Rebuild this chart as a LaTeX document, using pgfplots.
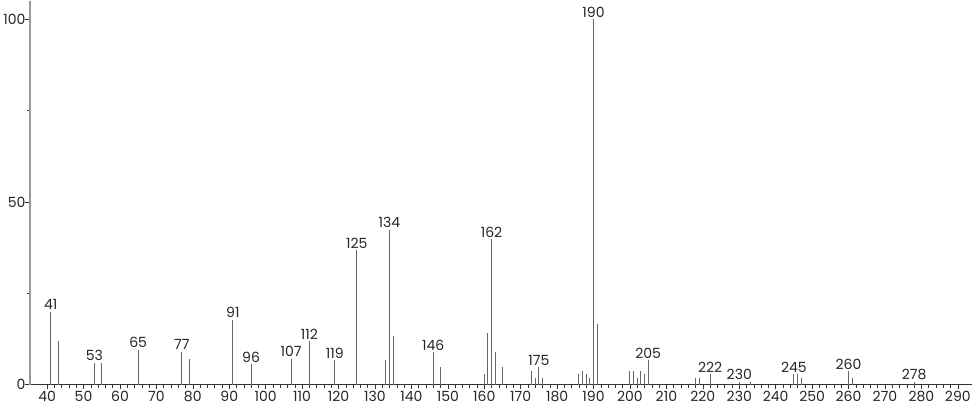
\documentclass[border=0pt]{standalone}
\usepackage{fontspec}
\setmainfont{Poppins}
\usepackage{pgfplots}
\pgfplotsset{compat=1.18}
\usepackage{pgfplotstable}

\pgfplotstableread{
mz  rel
41  20
43  11.8
53  6
55  6
65  9.6
77  9
79  7.1
91  17.8
96  5.5
107 7.1
112 11.8
119 6.6
125 36.9
133 6.6
134 42.4
135 13.2
146 8.8
148 4.7
160 2.9
161 14
162 39.9
163 9
165 4.7
173 3.8
174 1.9
175 4.7
176 1.9
186 2.9
187 3.8
188 2.9
189 1.9
190 100
191 16.6
200 3.8
201 3.8
202 1.7
203 3.8
204 2.9
205 6.6
218 1.9
219 1.9
222 2.9
230 0.8
233 0.8
245 2.9
246 2.9
247 1.9
260 3.7
261 1.9
278 0.8
}\peaks

\pgfplotstableread{
mz  rel
41  20
53  6
65  9.6
77  9
91  17.8
96  5.5
107 7.1
112 11.8
119 6.6
125 36.9
134 42.4
146 8.8
162 39.9
175 4.7
190 100
205 6.6
222 2.9
230 0.8
245 2.9
260 3.7
278 0.8
}\labelled

\begin{document}
\begin{tikzpicture}
\begin{axis}[
    scale only axis,
    width=941pt, height=383pt,
    xmin=35.3, xmax=294,
    ymin=0, ymax=105,
    axis x line=bottom, axis y line=left,
    axis line style={-},
    x axis line style={black!80, line width=0.8pt},
    y axis line style={black!40, line width=2pt},
    xtick={40,50,...,290},
    minor x tick num=4,
    ytick={0,50,100},
    minor ytick={25,75},
    tick align=outside,
    major tick length=4.5pt,
    minor tick length=3pt,
    tick style={black!80, line width=0.6pt},
    xticklabel style={yshift=1pt},
    yticklabel style={xshift=3.5pt},
    /pgf/number format/assume math mode=true,
    ticklabel style={font=\fontsize{14}{16}\selectfont, text=black!85},
    clip=false,
]
\addplot+[ycomb, no marks, draw=black!60, line width=1pt] table[x=mz, y=rel] {\peaks};
\addplot+[only marks, mark=none, draw=none,
    point meta=x,
    nodes near coords={\pgfmathprintnumber[int detect]{\pgfplotspointmeta}},
    nodes near coords style={anchor=south, inner sep=1.5pt, text=black!85,
        font=\fontsize{14}{16}\selectfont, /pgf/number format/assume math mode=true},
] table[x=mz, y=rel] {\labelled};
\end{axis}
\end{tikzpicture}
\end{document}
